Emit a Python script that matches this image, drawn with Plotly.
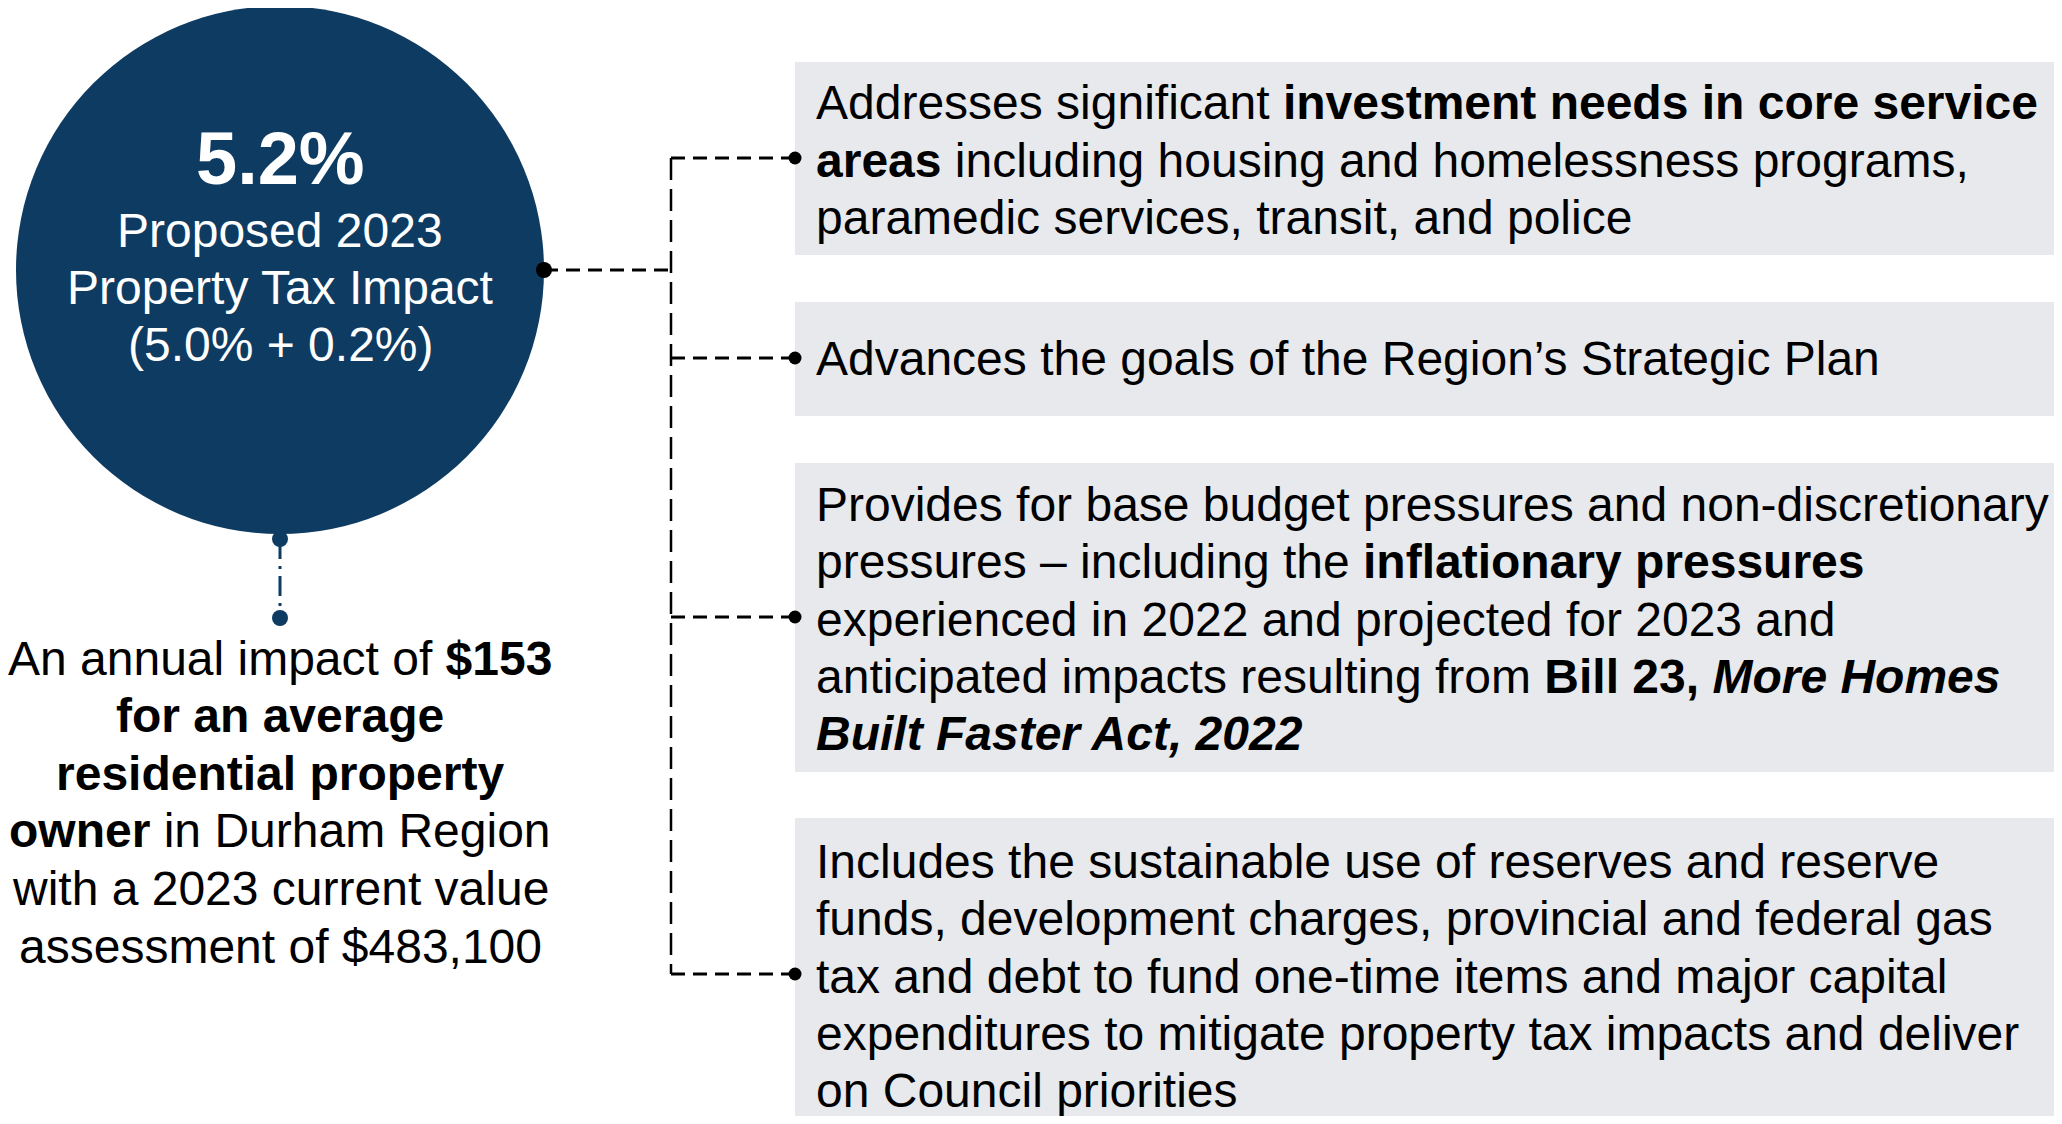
import plotly.graph_objects as go

# ---------------- content ----------------
circle_headline = "5.2%"
circle_lines = ["Proposed 2023", "Property Tax Impact", "(5.0% + 0.2%)"]

impact_lines = [
    "An annual impact of <b>$153</b>",
    "<b>for an average</b>",
    "<b>residential property</b>",
    "<b>owner</b> in Durham Region",
    "with a 2023 current value",
    "assessment of $483,100",
]

box1_lines = [
    "Addresses significant <b>investment needs in core service</b>",
    "<b>areas</b> including housing and homelessness programs,",
    "paramedic services, transit, and police",
]
box2_lines = ["Advances the goals of the Region\u2019s Strategic Plan"]
box3_lines = [
    "Provides for base budget pressures and non-discretionary",
    "pressures \u2013 including the <b>inflationary pressures</b>",
    "experienced in 2022 and projected for 2023 and",
    "anticipated impacts resulting from <b>Bill 23, <i>More Homes</i></b>",
    "<b><i>Built Faster Act, 2022</i></b>",
]
box4_lines = [
    "Includes the sustainable use of reserves and reserve",
    "funds, development charges, provincial and federal gas",
    "tax and debt to fund one-time items and major capital",
    "expenditures to mitigate property tax impacts and deliver",
    "on Council priorities",
]
boxes = [box1_lines, box2_lines, box3_lines, box4_lines]

# ---------------- layout geometry ----------------
W, H = 2062, 1124
PAGE_MARGIN = 8  # default body margin of the html page
NAVY = "#0E3B62"
GRAY = "#E7E9ED"
FONT = "Liberation Sans, Arial, sans-serif"
FS = 48
LS = 57.3

cx, cy, r = 280, 270, 264
box_x0 = 795
box_y = [(62, 255), (302, 416), (463, 772), (818, 1140)]
dot_y = [158, 358, 617, 974]
trunk_x = 671

fig = go.Figure()

shapes = [
    dict(type="circle", xref="x", yref="y", x0=cx - r, x1=cx + r, y0=cy - r, y1=cy + r,
         fillcolor=NAVY, line=dict(width=0), layer="below")
]
for (y0, y1) in box_y:
    shapes.append(dict(type="rect", xref="x", yref="y", x0=box_x0, x1=W + 20, y0=y0, y1=y1,
                       fillcolor=GRAY, line=dict(width=0), layer="below"))

# connectors
dash = "14px,8px"
fig.add_trace(go.Scatter(x=[cx + r, trunk_x], y=[cy, cy], mode="lines",
                         line=dict(color="black", width=3, dash=dash), hoverinfo="skip"))
fig.add_trace(go.Scatter(x=[trunk_x, trunk_x], y=[dot_y[0], dot_y[-1]], mode="lines",
                         line=dict(color="black", width=2.5, dash="22px,9px"), hoverinfo="skip"))
for yv in dot_y:
    fig.add_trace(go.Scatter(x=[trunk_x, box_x0], y=[yv, yv], mode="lines",
                             line=dict(color="black", width=3, dash=dash), hoverinfo="skip"))
fig.add_trace(go.Scatter(x=[box_x0] * len(dot_y), y=dot_y, mode="markers",
                         marker=dict(color="black", size=13), hoverinfo="skip"))
fig.add_trace(go.Scatter(x=[cx + r], y=[cy], mode="markers",
                         marker=dict(color="black", size=16), hoverinfo="skip"))
# navy dash-dot connector below circle
fig.add_trace(go.Scatter(x=[cx, cx], y=[cy + r + 5, 618], mode="lines",
                         line=dict(color=NAVY, width=3, dash="20px,7px,3px,7px"), hoverinfo="skip"))
fig.add_trace(go.Scatter(x=[cx, cx], y=[cy + r + 5, 618], mode="markers",
                         marker=dict(color=NAVY, size=16), hoverinfo="skip"))

ann = []
# circle text
ann.append(dict(x=cx, y=158, text="<b>" + circle_headline + "</b>", showarrow=False,
                xanchor="center", yanchor="middle", font=dict(family=FONT, size=74, color="white")))
for i, t in enumerate(circle_lines):
    ann.append(dict(x=cx, y=230 + i * LS, text=t, showarrow=False, xanchor="center",
                    yanchor="middle", font=dict(family=FONT, size=FS, color="white")))
# impact text
for i, t in enumerate(impact_lines):
    ann.append(dict(x=cx, y=658 + i * 57.6, text=t, showarrow=False, xanchor="center",
                    yanchor="middle", font=dict(family=FONT, size=FS, color="black")))
# box texts, centred on the connector dot
for lines, yd in zip(boxes, dot_y):
    mid = (len(lines) - 1) / 2
    for i, t in enumerate(lines):
        ann.append(dict(x=814, y=yd + (i - mid) * LS + (2 if len(lines) > 1 else 0), text=t,
                        showarrow=False, xanchor="left", yanchor="middle",
                        font=dict(family=FONT, size=FS, color="black")))

# the page has an 8px body margin: shrink the figure and shift the data ranges
# so that data coordinates equal window pixel coordinates
fw, fh = W - 2 * PAGE_MARGIN, H - 2 * PAGE_MARGIN
fig.update_layout(
    width=fw, height=fh, margin=dict(l=0, r=0, t=0, b=0),
    paper_bgcolor="white", plot_bgcolor="white", showlegend=False,
    xaxis=dict(range=[PAGE_MARGIN, PAGE_MARGIN + fw], visible=False, fixedrange=True),
    yaxis=dict(range=[PAGE_MARGIN + fh, PAGE_MARGIN], visible=False, fixedrange=True),
    shapes=shapes, annotations=ann,
)
fig.write_html("out.html", config={"displayModeBar": False})
